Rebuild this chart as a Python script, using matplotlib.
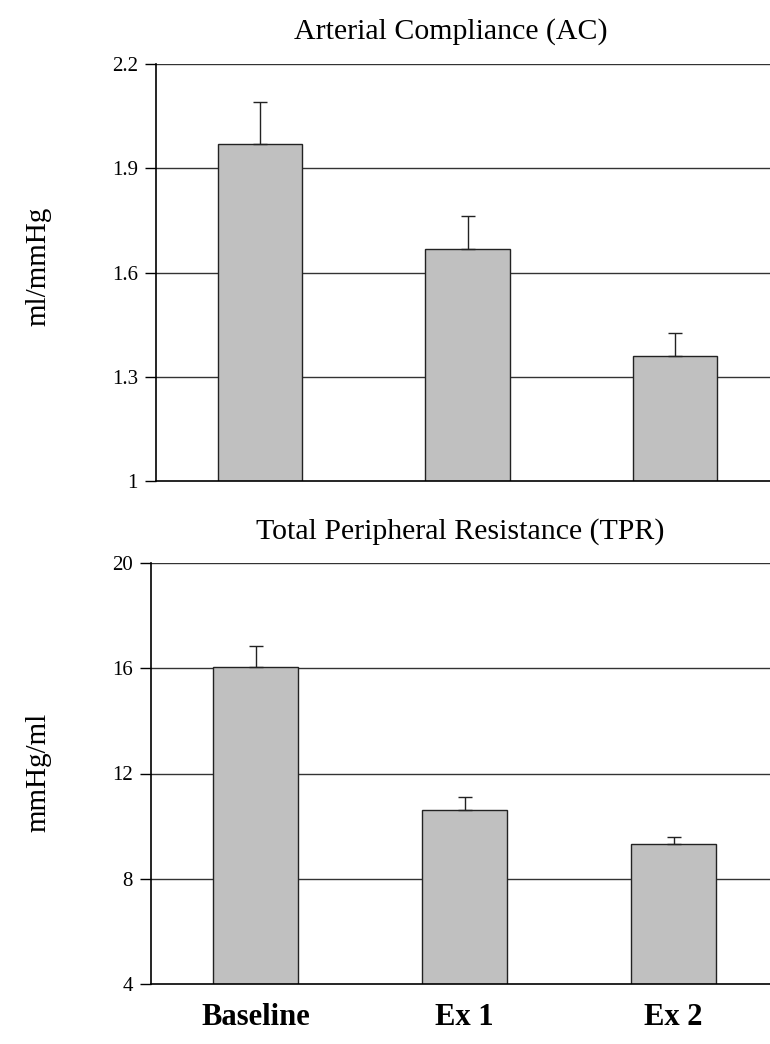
import matplotlib
matplotlib.use("Agg")
import matplotlib.pyplot as plt

categories = ["Baseline", "Ex 1", "Ex 2"]
ac_values = [1.97, 1.668, 1.361]
ac_errors = [0.12, 0.095, 0.066]
tpr_values = [16.05, 10.61, 9.33]
tpr_errors = [0.80, 0.50, 0.27]
ac_ticks = [1, 1.3, 1.6, 1.9, 2.2]
ac_ticklabels = ["1", "1.3", "1.6", "1.9", "2.2"]
tpr_ticks = [4, 8, 12, 16, 20]

plt.rcParams['font.family'] = ['Liberation Serif', 'DejaVu Serif']

W, H = 770, 1044
fig = plt.figure(figsize=(W / 100, H / 100), dpi=100)

def make_axes(left, top, right, bottom):
    return fig.add_axes([left / W, 1 - bottom / H, (right - left) / W, (bottom - top) / H])

def draw(ax, vals, errs, ticks, ticklabels, ylim, show_x):
    x = list(range(len(categories)))
    ax.set_axisbelow(True)
    for t in ticks[1:]:
        ax.axhline(t, color='#333333', lw=1.0, zorder=0)
    ax.bar(x, vals, width=0.405, color='#c0c0c0', edgecolor='#222222', lw=1.0, zorder=2)
    ax.errorbar(x, vals, yerr=[[0] * len(errs), errs], fmt='none', ecolor='#222222',
                elinewidth=1.0, capsize=5, capthick=1.0, zorder=3)
    ax.set_xlim(-0.5, 2.5)
    ax.set_ylim(*ylim)
    ax.set_yticks(ticks)
    ax.set_yticklabels(ticklabels, fontsize=15)
    ax.tick_params(axis='y', length=8, width=1, pad=5)
    ax.tick_params(axis='x', length=0)
    for s in ['top', 'right']:
        ax.spines[s].set_visible(False)
    ax.spines['left'].set_linewidth(1.2)
    ax.spines['bottom'].set_linewidth(1.2)
    if show_x:
        ax.set_xticks(x)
        ax.set_xticklabels(categories, fontsize=22, fontweight='bold')
        ax.tick_params(axis='x', pad=14)
    else:
        ax.set_xticks([])

ax1 = make_axes(156, 64, 779, 481)
draw(ax1, ac_values, ac_errors, ac_ticks, ac_ticklabels, (1, 2.2), False)
ax2 = make_axes(151, 563, 778, 984)
draw(ax2, tpr_values, tpr_errors, tpr_ticks, [str(t) for t in tpr_ticks], (4, 20), True)

fig.text(451 / W, 1 - 32 / H, "Arterial Compliance (AC)", ha='center', va='center', fontsize=21.5)
fig.text(460 / W, 1 - 532 / H, "Total Peripheral Resistance (TPR)", ha='center', va='center', fontsize=21.5)

fig.text(38 / W, 1 - 266 / H, "ml/mmHg", rotation=90, ha='center', va='center', fontsize=21)
fig.text(38 / W, 1 - 772 / H, "mmHg/ml", rotation=90, ha='center', va='center', fontsize=21)

fig.savefig("out.png", dpi=100)
